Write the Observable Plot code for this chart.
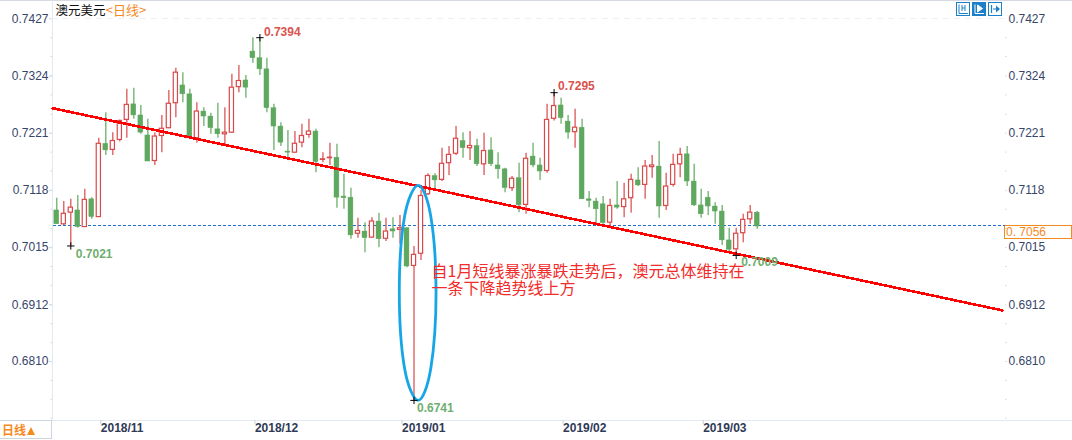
<!DOCTYPE html>
<html>
<head>
<meta charset="utf-8">
<style>html,body{margin:0;padding:0;background:#fff;overflow:hidden}</style>
<script src="https://cdn.jsdelivr.net/npm/d3@7"></script>
<script src="https://cdn.jsdelivr.net/npm/@observablehq/plot@0.6"></script>
</head>
<body>
<div id="chart"></div>
<script>
const high = [0.7104,0.7098,0.7102,0.7109,0.7120,0.7105,0.7212,0.7258,0.7222,0.7245,
0.7300,0.7302,0.7271,0.7246,0.7222,0.7253,0.7298,0.7338,0.7330,0.7300,
0.7276,0.7267,0.7257,0.7275,0.7267,0.7327,0.7343,0.7325,0.7393,0.7393,
0.7356,0.7273,0.7240,0.7226,0.7224,0.7237,0.7246,0.7228,0.7186,0.7203,
0.7201,0.7147,0.7122,0.7068,0.7060,0.7069,0.7077,0.7068,0.7069,0.7073,
0.7051,0.7017,0.7118,0.7148,0.7148,0.7194,0.7197,0.7233,0.7222,0.7224,
0.7210,0.7221,0.7213,0.7186,0.7158,0.7143,0.7167,0.7185,0.7203,0.7176,
0.7273,0.7294,0.7284,0.7253,0.7264,0.7246,0.7116,0.7104,0.7107,0.7102,
0.7134,0.7131,0.7147,0.7159,0.7172,0.7181,0.7206,0.7149,0.7183,0.7194,
0.7197,0.7165,0.7120,0.7116,0.7096,0.7091,0.7050,0.7050,0.7075,0.7091,0.7080];
const low = [0.7057,0.7055,0.7018,0.7050,0.7052,0.7066,0.7070,0.7181,0.7181,0.7205,
0.7212,0.7246,0.7219,0.7170,0.7163,0.7186,0.7229,0.7249,0.7276,0.7213,
0.7203,0.7233,0.7219,0.7212,0.7199,0.7221,0.7294,0.7284,0.7347,0.7325,
0.7258,0.7190,0.7197,0.7172,0.7185,0.7195,0.7212,0.7150,0.7168,0.7163,
0.7086,0.7084,0.7030,0.7032,0.7006,0.7032,0.7015,0.7026,0.7032,0.7021,
0.6979,0.6740,0.6992,0.7109,0.7118,0.7134,0.7145,0.7181,0.7176,0.7172,
0.7161,0.7145,0.7161,0.7138,0.7114,0.7116,0.7078,0.7075,0.7159,0.7136,
0.7149,0.7243,0.7237,0.7210,0.7194,0.7102,0.7087,0.7057,0.7057,0.7053,
0.7084,0.7069,0.7077,0.7125,0.7102,0.7140,0.7068,0.7082,0.7124,0.7141,
0.7125,0.7089,0.7068,0.7073,0.7057,0.7019,0.7006,0.7001,0.7024,0.7057,0.7048];
const open = [0.7082,0.7057,0.7078,0.7082,0.7052,0.7102,0.7070,0.7202,0.7191,0.7209,
0.7245,0.7273,0.7253,0.7217,0.7171,0.7216,0.7230,0.7275,0.7307,0.7291,
0.7212,0.7260,0.7251,0.7228,0.7219,0.7222,0.7304,0.7316,0.7368,0.7356,
0.7336,0.7266,0.7233,0.7188,0.7186,0.7204,0.7218,0.7224,0.7173,0.7176,
0.7177,0.7107,0.7105,0.7040,0.7044,0.7033,0.7062,0.7031,0.7048,0.7047,
0.7050,0.6982,0.7004,0.7111,0.7144,0.7137,0.7167,0.7184,0.7207,0.7194,
0.7198,0.7165,0.7190,0.7163,0.7156,0.7122,0.7140,0.7092,0.7179,0.7163,
0.7153,0.7247,0.7271,0.7242,0.7223,0.7231,0.7102,0.7098,0.7093,0.7060,
0.7091,0.7088,0.7104,0.7136,0.7128,0.7160,0.7161,0.7090,0.7128,0.7165,
0.7183,0.7134,0.7091,0.7105,0.7089,0.7080,0.7028,0.7012,0.7041,0.7066,0.7078];
const close = [0.7057,0.7076,0.7087,0.7052,0.7101,0.7070,0.7202,0.7190,0.7207,0.7243,
0.7272,0.7253,0.7222,0.7170,0.7215,0.7229,0.7274,0.7330,0.7291,0.7214,
0.7260,0.7251,0.7230,0.7219,0.7222,0.7303,0.7315,0.7303,0.7356,0.7336,
0.7266,0.7233,0.7204,0.7186,0.7202,0.7216,0.7224,0.7169,0.7174,0.7177,
0.7105,0.7104,0.7037,0.7045,0.7032,0.7062,0.7030,0.7044,0.7044,0.7050,
0.6981,0.7002,0.7108,0.7144,0.7136,0.7166,0.7182,0.7211,0.7194,0.7198,
0.7165,0.7189,0.7165,0.7156,0.7122,0.7139,0.7091,0.7175,0.7163,0.7152,
0.7245,0.7270,0.7248,0.7222,0.7231,0.7102,0.7099,0.7084,0.7059,0.7090,
0.7087,0.7102,0.7137,0.7127,0.7161,0.7163,0.7089,0.7125,0.7164,0.7182,
0.7134,0.7091,0.7075,0.7089,0.7080,0.7028,0.7011,0.7040,0.7065,0.7078,0.7053];

const priceTicks = [0.7427,0.7324,0.7221,0.7118,0.7015,0.6912,0.6810];
const priceTickLabels = ["0.7427","0.7324","0.7221","0.7118","0.7015","0.6912","0.6810"];
const minorTicks = [0.7393,0.7359,0.7324,0.7290,0.7255,0.7221,0.7187,0.7153,0.7118,0.7084,0.7049,0.7015,0.6981,0.6947,0.6912,0.6878,0.6844,0.6810,0.6776,0.6742,0.6708];
const monthIndex = [6,28,49,72,92];
const monthLabels = ["2018/11","2018/12","2019/01","2019/02","2019/03"];

const extremeIndex = [29,71,2,51,97];
const extremePrice = [0.7393,0.7294,0.7018,0.6740,0.7001];
const extremeText = ["0.7394","0.7295","0.7021","0.6741","0.7009"];
const extremeKind = ["hi","hi","lo","lo","lo"];
const extremeDx = [4,4,5,3,5];
const extremeDy = [-6,-7,8,8,7];

const trendIndex = [-0.6,135];
const trendPrice = [0.7266,0.6902];
const ellipseIndex = [51.6,53.4,54.15,53.4,51.6,49.65,48.9,49.65];
const ellipsePrice = [0.7127,0.7071,0.6935,0.6798,0.6740,0.6798,0.6935,0.7071];
const lastLineIndex = [-0.6,135.3];
const lastPrice = 0.7054;
const noteLines = ["自1月短线暴涨暴跌走势后，澳元总体维持在","一条下降趋势线上方"];
const notePrice = [0.6972,0.6940];

const RED = "#d9484a", GREEN = "#5fa85f", ORANGE = "#f58a1f", AXIS = "#36456a", PALE = "#e3e9f0";
const FONT = "'Liberation Sans',Arial,sans-serif";
const CJK = "'Noto Sans CJK SC','Liberation Sans',sans-serif";

const candles = high.map((h,i)=>({i,high:h,low:low[i],open:open[i],close:close[i],up:close[i]>=open[i]}));
const ups = candles.filter(d=>d.up), downs = candles.filter(d=>!d.up);
const extremes = extremeIndex.map((i,k)=>({i,price:extremePrice[k],text:extremeText[k],kind:extremeKind[k],dx:extremeDx[k],dy:extremeDy[k]}));
const trend = trendIndex.map((i,k)=>({i,price:trendPrice[k]}));
const ellipse = ellipseIndex.map((i,k)=>({i,price:ellipsePrice[k]}));
const lastLine = lastLineIndex.map(i=>({i,price:lastPrice}));

function chrome(index, scales, values, dims){
  const g = d3.create("svg:g").attr("text-anchor","start");
  const line=(x1,y1,x2,y2,c)=>g.append("line").attr("x1",x1).attr("y1",y1).attr("x2",x2).attr("y2",y2).attr("stroke",c).attr("shape-rendering","crispEdges");
  line(0,0.5,1072,0.5,"#d5d9e2");
  line(52.5,0,52.5,420,PALE);
  line(0,420.5,1072,420.5,PALE);
  line(52,18.5,1004,18.5,"#eceff3").attr("stroke-dasharray","6 5");
  g.append("rect").attr("x",-1).attr("y",420.5).attr("width",52.5).attr("height",18).attr("fill","#fff").attr("stroke","#cfd5dc").attr("shape-rendering","crispEdges");
  g.append("text").attr("x",2).attr("y",435).attr("fill",ORANGE).attr("font-size",12).attr("font-weight","bold").attr("font-family",CJK).text("日线");
  g.append("path").attr("d","M27 435h8l-4-8z").attr("fill",ORANGE);
  // tag of the last price
  g.append("rect").attr("x",1004.5).attr("y",225.5).attr("width",67).attr("height",13).attr("fill","#fff").attr("stroke",ORANGE).attr("shape-rendering","crispEdges");
  g.append("text").attr("x",1006).attr("y",236).attr("fill",ORANGE).attr("font-size",12).attr("font-family",FONT).text("0. 7056");
  // the three buttons of the toolbar
  [956,972,988].forEach((x,k)=>{
    const b=g.append("g").attr("transform",`translate(${x},2)`);
    const fg=k===1?"#fff":"#1c7fc8";
    b.append("rect").attr("x",0.5).attr("y",0.5).attr("width",13).attr("height",13).attr("fill",k===1?"#1c7fc8":"#fff").attr("stroke","#1c7fc8").attr("stroke-width",1);
    if(k<2){
      b.append("path").attr("d","M3 2.5v9h9").attr("fill","none").attr("stroke",fg);
      b.append("path").attr("d",k===0?"M6 3v6M9 3v6M6 6h3":"M5.5 3l5 3.5-5 3.5z").attr("fill",k===0?"none":fg).attr("stroke",fg);
    } else {
      b.append("path").attr("d","M3.5 3v8M5 7h4").attr("fill","none").attr("stroke",fg).attr("stroke-width",1.2);
      b.append("path").attr("d","M8 3.5l4 3.5-4 3.5z").attr("fill",fg);
    }
  });
  return g.node();
}

const fig = Plot.plot({
  width:1072, height:440,
  marginTop:18, marginBottom:20, marginLeft:52, marginRight:68,
  style:{fontFamily:FONT, background:"transparent"},
  x:{type:"linear", domain:[0,100], range:[56.3,756.7]},
  y:{type:"linear", domain:[0.7427,0.681], range:[18.3,361]},
  marks:[
    chrome,
    Plot.axisY({anchor:"left", ticks:minorTicks, tickFormat:()=>"", tickSize:1.5, stroke:"#cfd8e2", label:null}),
    Plot.axisY({anchor:"right", ticks:minorTicks, tickFormat:()=>"", tickSize:1.5, stroke:"#cfd8e2", label:null}),
    Plot.axisY({anchor:"left", ticks:priceTicks, tickFormat:(d,i)=>priceTickLabels[i], tickSize:3, tickPadding:1, stroke:"#cfd8e2", fill:AXIS, fontSize:12, label:null}),
    Plot.axisY({anchor:"right", ticks:priceTicks, tickFormat:(d,i)=>priceTickLabels[i], tickSize:0, tickPadding:4, fill:AXIS, fontSize:12, label:null}),
    Plot.axisX({anchor:"bottom", ticks:monthIndex, tickFormat:(d,i)=>monthLabels[i], tickSize:4, tickPadding:-1, stroke:"#c8d0da", fill:"#2f3a55", fontSize:12, fontWeight:"bold", textAnchor:"start", dx:2, label:null}),
    Plot.line(lastLine,{x:"i",y:"price",stroke:"#1e6fd0",strokeWidth:1,strokeDasharray:"3 2",shapeRendering:"crispEdges"}),
    Plot.ruleX(ups,{x:"i",y1:"low",y2:"high",stroke:RED,strokeWidth:1.2}),
    Plot.ruleX(downs,{x:"i",y1:"low",y2:"high",stroke:GREEN,strokeWidth:1.2}),
    Plot.rect(ups,{x1:d=>d.i-0.3,x2:d=>d.i+0.3,y1:"open",y2:"close",fill:"#fff",stroke:RED,strokeWidth:1.2}),
    Plot.rect(downs,{x1:d=>d.i-0.35,x2:d=>d.i+0.35,y1:"open",y2:"close",fill:GREEN,stroke:GREEN,strokeWidth:0.4}),
    Plot.line(trend,{x:"i",y:"price",stroke:"#ff0000",strokeWidth:2.6,shapeRendering:"crispEdges"}),
    Plot.line(ellipse,{x:"i",y:"price",curve:"cardinal-closed",stroke:"#16a6e6",strokeWidth:2.8}),
    Plot.dot(extremes,{x:"i",y:"price",symbol:"plus",r:2.5,stroke:"#000",strokeWidth:1}),
    ...extremes.map(d=>Plot.text([d],{x:"i",y:"price",text:"text",dx:d.dx,dy:d.dy,fill:d.kind==="hi"?"#d9534f":"#6fae6f",fontSize:12,fontWeight:"bold",textAnchor:"start"})),
    Plot.text(noteLines,{x:()=>53.5,y:(d,i)=>notePrice[i],text:d=>d,fill:"#f22b2b",fontSize:16,fontFamily:CJK,textAnchor:"start"}),
    Plot.text(["澳元美元"],{x:()=>-0.2,y:()=>0.7441,text:d=>d,fill:"#111",fontSize:12.5,fontFamily:CJK,textAnchor:"start"}),
    Plot.text(["<日线>"],{x:()=>7,y:()=>0.7441,text:d=>d,fill:ORANGE,fontSize:13,fontFamily:CJK,textAnchor:"start"})
  ]
});
document.getElementById("chart").appendChild(fig);
</script>
</body>
</html>
